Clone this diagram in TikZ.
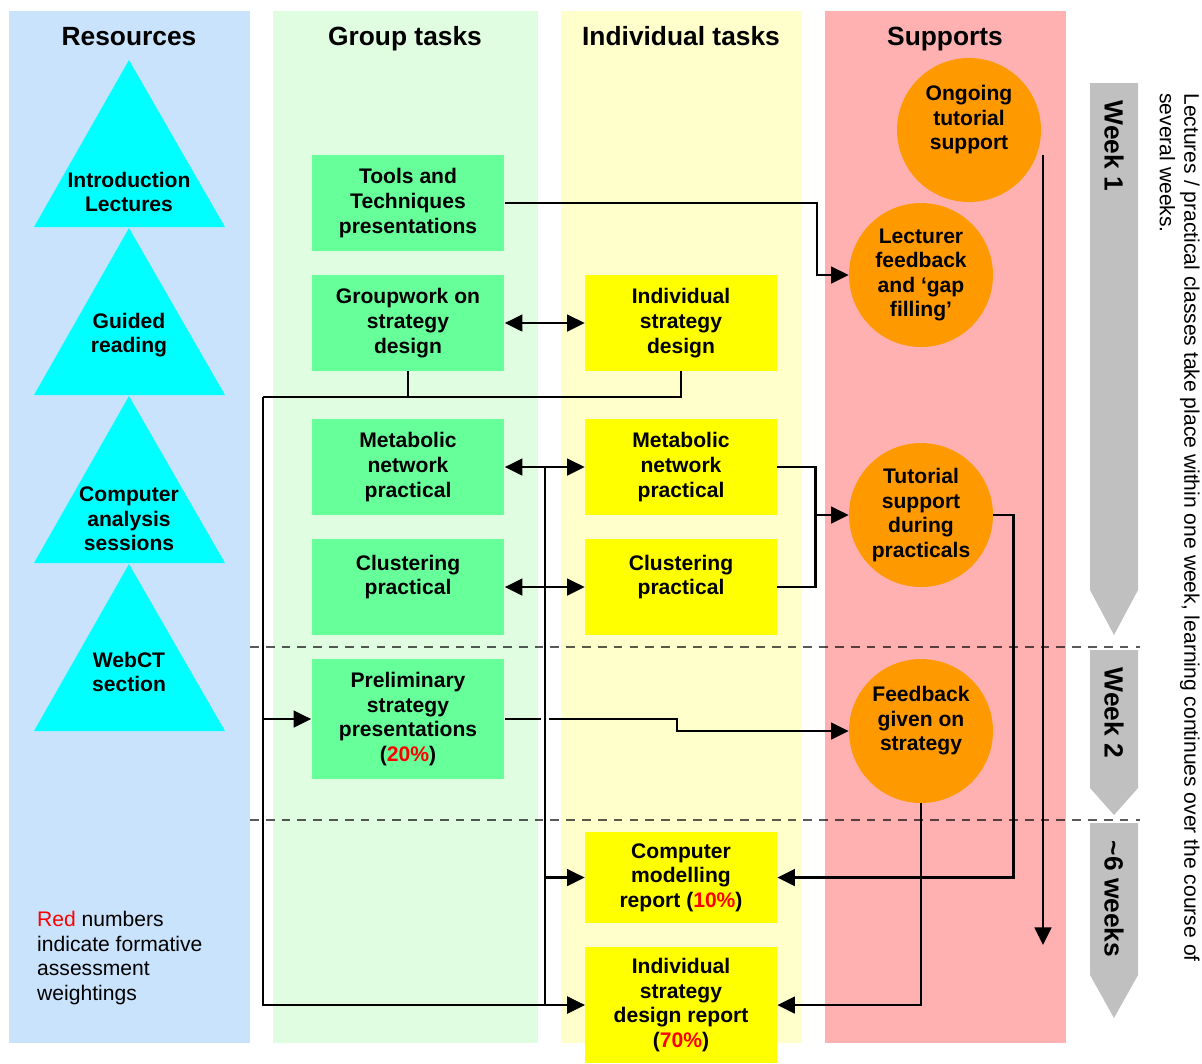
\documentclass[tikz,border=0pt]{standalone}
\usepackage{fontspec}
\setmainfont{Liberation Sans}
\usetikzlibrary{arrows.meta,calc}
\definecolor{resblue}{HTML}{C9E3FC}
\definecolor{grplane}{HTML}{E1FDE1}
\definecolor{indlane}{HTML}{FFFFCC}
\definecolor{suplane}{HTML}{FFB1B1}
\definecolor{grpbox}{HTML}{66FF99}
\definecolor{indbox}{HTML}{FFFF00}
\definecolor{supdisc}{HTML}{FF9900}
\definecolor{restri}{HTML}{00FFFF}
\definecolor{weekgray}{HTML}{C0C0C0}

\begin{document}
\begin{tikzpicture}[x=0.02cm, y=-0.02cm,
  txt/.style={font=\fontsize{12}{14}\selectfont\bfseries, align=center},
  hdr/.style={font=\fontsize{15}{18}\selectfont\bfseries},
  gbox/.style={txt, fill=grpbox, minimum width=3.86cm, minimum height=1.92cm, inner sep=0pt},
  ybox/.style={txt, fill=indbox, minimum width=3.84cm, minimum height=1.92cm, inner sep=0pt},
  disc/.style={txt, circle, fill=supdisc, minimum size=2.88cm, inner sep=0pt},
  wk/.style={hdr, rotate=-90},
  line/.style={draw=black, line width=1.4pt},
  fwd/.style={line, -{Triangle[length=10pt,width=9.5pt]}},
  both/.style={line, {Triangle[length=10pt,width=9.5pt]}-{Triangle[length=10pt,width=9.5pt]}},
  wkline/.style={draw=black, draw opacity=0.65, line width=0.9pt, dash pattern=on 5pt off 4pt},
]
\useasboundingbox (0,0) rectangle (1202,1063);

% ---- lanes ------------------------------------------------------------------
\fill[resblue] (9,11) rectangle (250,1043);
\fill[grplane] (273,11) rectangle (538,1043);
\fill[indlane] (561,11) rectangle (802,1043);
\fill[suplane] (825,11) rectangle (1066,1043);
\node[hdr, anchor=base] (hres) at (129,45) {Resources};
\node[hdr, anchor=base] (hgrp) at (405,45) {Group tasks};
\node[hdr, anchor=base] (hind) at (681,45) {Individual tasks};
\node[hdr, anchor=base] (hsup) at (945,45) {Supports};

% ---- week boundaries --------------------------------------------------------
\draw[wkline] (250,647) -- (1140,647);
\draw[wkline] (250,820) -- (1140,820);

% ---- resources --------------------------------------------------------------
\fill[restri] (129,60) -- (225,227) -- (34,227) -- cycle;
\fill[restri] (129,228) -- (225,395) -- (34,395) -- cycle;
\fill[restri] (129,396) -- (225,563) -- (34,563) -- cycle;
\fill[restri] (129,564) -- (225,731) -- (34,731) -- cycle;
\node[txt] (intro) at (129,192) {Introduction\\Lectures};
\node[txt] (guided) at (129,335) {Guided\\reading};
\node[txt] (compan) at (129,519) {Computer\\analysis\\sessions};
\node[txt] (webct) at (129,672) {WebCT\\section};
\node[font=\fontsize{12}{14}\selectfont, align=left, anchor=west] (legend) at (31,958)
  {\textcolor{red}{Red} numbers\\indicate formative\\assessment\\weightings};

% ---- group tasks ------------------------------------------------------------
\node[gbox] (gtools) at (408,203) {Tools and\\Techniques\\presentations};
\node[gbox] (gdesign) at (408,323) {Groupwork on\\strategy\\design};
\node[gbox] (gmeta) at (408,467) {Metabolic\\network\\practical};
\node[gbox] (gclust) at (408,587) {Clustering\\practical\\\mbox{}};
\node[gbox, minimum height=2.4cm] (gprelim) at (408,719)
  {Preliminary\\strategy\\presentations\\(\textcolor{red}{20\%})};

% ---- individual tasks -------------------------------------------------------
\node[ybox] (idesign) at (681,323) {Individual\\strategy\\design};
\node[ybox] (imeta) at (681,467) {Metabolic\\network\\practical};
\node[ybox] (iclust) at (681,587) {Clustering\\practical\\\mbox{}};
\node[ybox, minimum height=1.82cm] (imodel) at (681,877.5)
  {Computer\\modelling\\report (\textcolor{red}{10\%})};
\node[ybox, minimum height=2.32cm] (ireport) at (681,1005)
  {Individual\\strategy\\design report\\(\textcolor{red}{70\%})};

% ---- supports ---------------------------------------------------------------
\node[disc] (ongoing) at (969,130) {Ongoing\\tutorial\\support\\\mbox{}};
\node[disc] (lecfb) at (921,275) {Lecturer\\feedback\\and `gap\\filling'};
\node[disc] (tutsup) at (921,515) {Tutorial\\support\\during\\practicals};
\node[disc] (stratfb) at (921,731) {Feedback\\given on\\strategy\\\mbox{}};

% ---- connectors -------------------------------------------------------------
\coordinate (split) at (263,397);
\coordinate (hub) at (545,467);
\coordinate (merge) at (815,515);
\coordinate (ongoingend) at (1043,945);

\draw[fwd] (gtools.east) -- ++(312,0) |- (lecfb.west);
\draw[both] (gdesign.east) -- (idesign.west);
\draw[line] (gdesign.south) |- (split);
\draw[line] (idesign.south) |- (split);
\draw[fwd] (split) |- (gprelim.west);
\draw[fwd] (split) |- (ireport.west);
\draw[both] (gmeta.east) -- (imeta.west);
\draw[both] (gclust.east) -- (iclust.west);
\draw[fwd] (hub) |- (imodel.west);
\draw[fwd] (hub) |- (ireport.west);
\draw[line] (gprelim.east) -- ($(hub |- gprelim.east)+(-4,0)$);
\draw[fwd] ($(hub |- gprelim.east)+(4,0)$) -- ++(128,0) |- (stratfb.west);
\draw[line] (imeta.east) -- ++(38,0) |- (iclust.east);
\draw[fwd] (merge) -- (tutsup.west);
\draw[fwd] (tutsup.east) -- ++(20,0) |- (imodel.east);
\draw[fwd] (stratfb.south) |- (ireport.east);
\draw[fwd] (ongoingend |- ongoing.-20) -- (ongoingend);

% ---- weeks ------------------------------------------------------------------
\fill[weekgray] (1090,83) -- (1138,83) -- (1138,590) -- (1114,635) -- (1090,590) -- cycle;
\fill[weekgray] (1090,650) -- (1138,650) -- (1138,788) -- (1114,815) -- (1090,788) -- cycle;
\fill[weekgray] (1090,823) -- (1138,823) -- (1138,975) -- (1114,1018) -- (1090,975) -- cycle;
\node[wk] (wk1) at (1114,146) {Week 1};
\node[wk] (wk2) at (1114,713) {Week 2};
\node[wk] (wk6) at (1114,899) {\textasciitilde6 weeks};
\node[font=\fontsize{12}{14}\selectfont, rotate=-90, align=left, anchor=north west,
  inner sep=0pt] (span) at (1200,93)
  {Lectures / practical classes take place within one week, learning continues over the course of\\several weeks.};

\end{tikzpicture}
\end{document}
